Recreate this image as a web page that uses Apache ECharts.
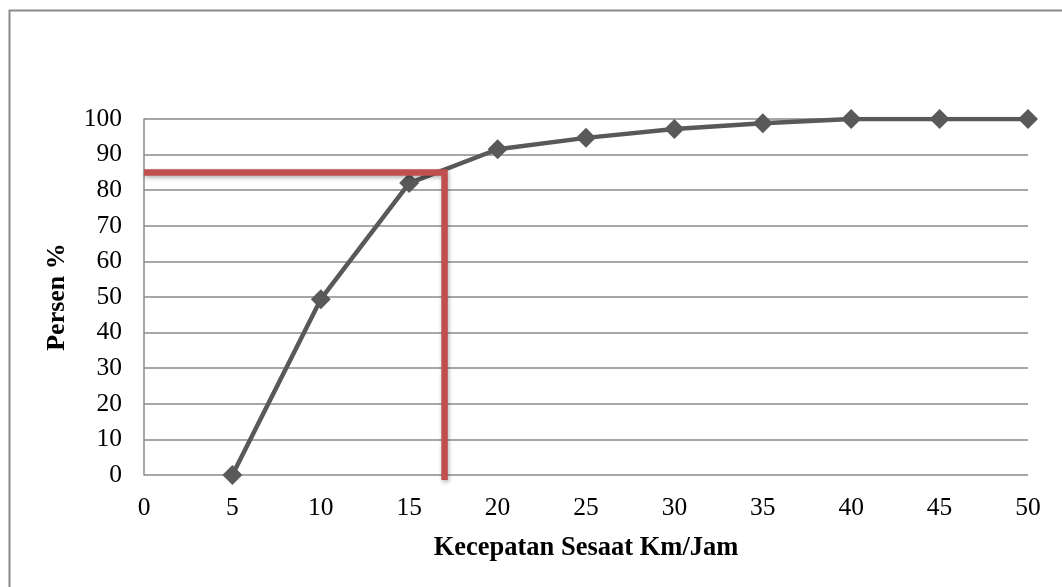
<!DOCTYPE html>
<html>
<head>
<meta charset="utf-8">
<script src="https://cdn.jsdelivr.net/npm/echarts@6/dist/echarts.min.js"></script>
<style>
html,body{margin:0;padding:0;background:#fff;}
#chart{width:1062px;height:587px;}
</style>
</head>
<body>
<div id="chart"></div>
<script>
// Data
var speeds = [5, 10, 15, 20, 25, 30, 35, 40, 45, 50];
var percents = [0, 49.4, 82, 91.5, 94.7, 97.2, 98.8, 100, 100, 100];
var refSpeed = [0, 17, 17];
var refPercent = [85, 85, -1.4];
var xTitle = 'Kecepatan Sesaat Km/Jam';
var yTitle = 'Persen %';

var curve = speeds.map(function (s, i) { return [s, percents[i]]; });
var ref = refSpeed.map(function (s, i) { return [s, refPercent[i]]; });

var chart = echarts.init(document.getElementById('chart'), null, {renderer: 'canvas'});
var font = 'Liberation Serif, Times New Roman, serif';
chart.setOption({
  animation: false,
  backgroundColor: '#fff',
  graphic: [{
    type: 'rect',
    shape: {x: 9.5, y: 10.5, width: 1200, height: 700},
    style: {fill: 'none', stroke: '#8a8a8a', lineWidth: 2},
    silent: true,
    z: -10
  }],
  grid: {left: 144, right: 34, top: 119, bottom: 112, containLabel: false},
  xAxis: {
    type: 'value',
    min: 0, max: 50, interval: 5,
    name: xTitle,
    nameLocation: 'middle',
    nameGap: 60,
    nameTextStyle: {fontFamily: font, fontSize: 26.5, fontWeight: 'bold', color: '#000'},
    axisLine: {show: false},
    axisTick: {show: false},
    splitLine: {show: false},
    axisLabel: {fontFamily: font, fontSize: 25.5, color: '#000', margin: 20}
  },
  yAxis: {
    type: 'value',
    min: 0, max: 100, interval: 10,
    name: yTitle,
    nameLocation: 'middle',
    nameGap: 74,
    nameRotate: 90,
    nameTextStyle: {fontFamily: font, fontSize: 26, fontWeight: 'bold', color: '#000'},
    axisLine: {show: true, onZero: false, lineStyle: {color: '#8a8a8a', width: 1.5}},
    axisTick: {show: false},
    splitLine: {show: true, lineStyle: {color: '#8a8a8a', width: 1.5}},
    axisLabel: {fontFamily: font, fontSize: 25.5, color: '#000', margin: 22}
  },
  series: [{
    type: 'line',
    data: curve,
    symbol: 'diamond',
    symbolSize: 20,
    lineStyle: {color: '#595959', width: 4.5},
    itemStyle: {color: '#595959'},
    z: 3
  }, {
    type: 'line',
    data: ref,
    symbol: 'none',
    clip: false,
    lineStyle: {color: '#c0504d', width: 6.5, cap: 'butt', join: 'miter',
      shadowColor: 'rgba(0,0,0,0.3)', shadowBlur: 4, shadowOffsetX: 1, shadowOffsetY: 2},
    z: 4
  }]
});
</script>
</body>
</html>
